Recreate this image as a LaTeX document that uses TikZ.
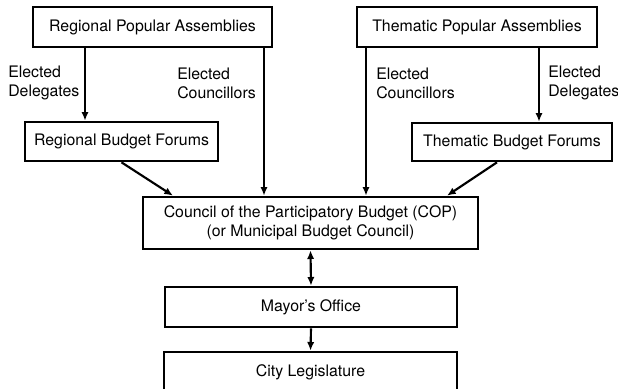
\documentclass[tikz,border=0pt]{standalone}
\usepackage{fontspec}
\setmainfont{TeX Gyre Heros}
\usetikzlibrary{arrows.meta}

\begin{document}
\begin{tikzpicture}[x=0.75pt,y=-0.75pt,
	box/.style={draw, line width=2pt, inner sep=0pt, align=center, font=\fontsize{11.9}{14.25}\selectfont},
	lbl/.style={anchor=west, inner sep=0pt, align=left, font=\fontsize{11.9}{14.25}\selectfont},
	arr/.style={line width=1.6pt, -{Latex[length=6.5pt,width=5.5pt]}}]
			\useasboundingbox (0,0) rectangle (618,389);
			\node	(rpa) at (152.5,27) [box, minimum width=179.25pt, minimum height=30pt] {Regional Popular Assemblies};
			\node	(tpa) at (477,27) [box, minimum width=180pt, minimum height=30pt] {Thematic Popular Assemblies};
			\node	(rbf) at (121.5,141.5) [box, minimum width=144.75pt, minimum height=29.25pt] {Regional Budget Forums};
			\node	(tbf) at (512,142) [box, minimum width=150pt, minimum height=28.5pt] {Thematic Budget Forums};
			\node	(cop) at (310.5,223) [box, minimum width=251.25pt, minimum height=39pt] {Council of the Participatory Budget (COP)\\(or Municipal Budget Council)};
			\node	(mo) at (311,307) [box, minimum width=219pt, minimum height=30pt] {Mayor’s Office};
			\node	(cl) at (310.5,372) [box, minimum width=219.75pt, minimum height=30pt] {City Legislature};
			\node	(rdel) at (8,83) [lbl] {Elected\\Delegates};
			\node	(rcou) at (177,83) [lbl] {Elected\\Councillors};
			\node	(tcou) at (376,83) [lbl] {Elected\\Councillors};
			\node	(tdel) at (548,83) [lbl] {Elected\\Delegates};
			\draw
			(rpa.south -| 85,0) edge[arr] (rbf.north -| 85,0)
			(rpa.south -| 264,0) edge[arr] (cop.north -| 264,0)
			(tpa.south -| 366,0) edge[arr] (cop.north -| 366,0)
			(tpa.south -| 539,0) edge[arr] (tbf.north -| 539,0)
			(rbf.south) edge[arr] (cop.north -| 173,0)
			(tbf.south -| 497,0) edge[arr] (cop.north -| 447,0)
			(cop.south) edge[arr, {Latex[length=6.5pt,width=5.5pt]}-{Latex[length=6.5pt,width=5.5pt]}] (mo.north)
			(mo.south) edge[arr] (cl.north)
			;
\end{tikzpicture}
\end{document}
